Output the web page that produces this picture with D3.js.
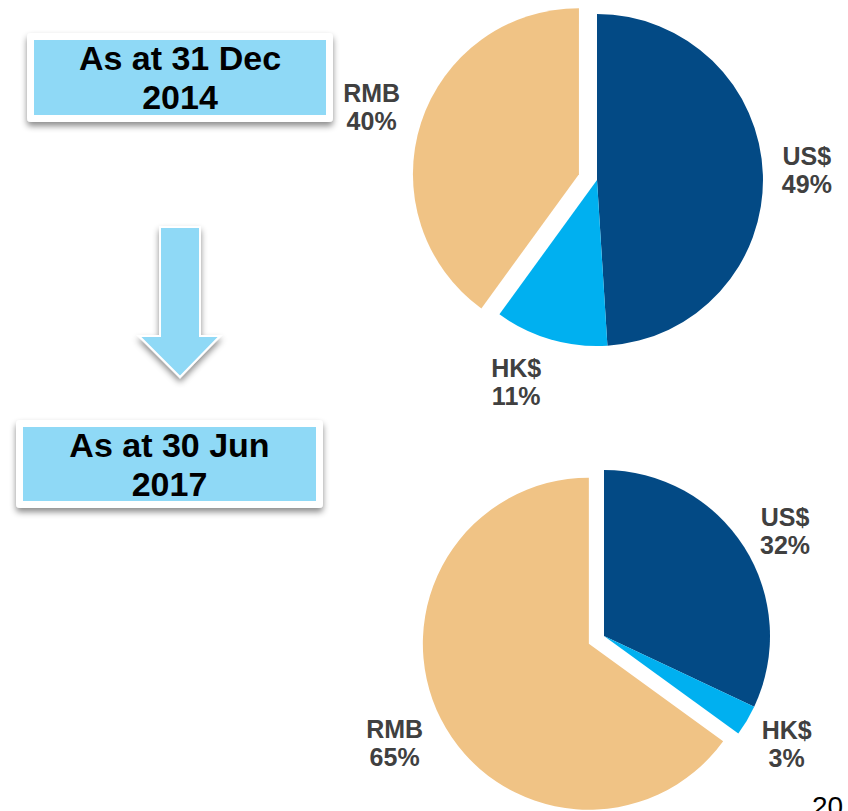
<!DOCTYPE html>
<html>
<head>
<meta charset="utf-8">
<script src="https://cdn.jsdelivr.net/npm/d3@7"></script>
<style>
  html, body { margin: 0; padding: 0; background: #fff; }
  svg { display: block; font-family: "Liberation Sans", Arial, sans-serif; }
</style>
</head>
<body>
<div id="chart"></div>
<script>
'use strict';

// currency mix of borrowings
var currencies = ['US$', 'HK$', 'RMB'];
var shareDec2014 = [49, 11, 40];
var shareJun2017 = [32, 3, 65];
var periodTitles = [['As at 31 Dec', '2014'], ['As at 30 Jun', '2017']];
var explodedCurrency = 'RMB';
var pageNumber = '20';

var colors = { 'US$': '#034a85', 'HK$': '#00b0f0', 'RMB': '#f0c385' };
var W = 848, H = 811;

var svg = d3.select('#chart').append('svg')
	.attr('width', W)
	.attr('height', H);

var defs = svg.append('defs');
defs.append('filter')
	.attr('id', 'shadow')
	.attr('x', '-10%').attr('y', '-20%')
	.attr('width', '120%').attr('height', '150%')
	.append('feDropShadow')
	.attr('dx', 0).attr('dy', 4)
	.attr('stdDeviation', 3)
	.attr('flood-color', '#000')
	.attr('flood-opacity', 0.45);

// title boxes
var boxes = [
	{ x: 27, y: 33, w: 306, h: 89, inset: 7, lines: periodTitles[0] },
	{ x: 16, y: 420, w: 307, h: 88, inset: 7, lines: periodTitles[1] }
];
boxes.forEach(function (b) {
	var g = svg.append('g');
	g.append('rect')
		.attr('x', b.x).attr('y', b.y)
		.attr('width', b.w).attr('height', b.h)
		.attr('rx', 4)
		.attr('fill', '#fff')
		.attr('filter', 'url(#shadow)');
	g.append('rect')
		.attr('x', b.x + b.inset).attr('y', b.y + b.inset)
		.attr('width', b.w - 2 * b.inset).attr('height', b.h - 2 * b.inset)
		.attr('fill', '#8fd9f6');
	g.append('text')
		.attr('x', b.x + b.w / 2)
		.attr('y', b.y + 37)
		.attr('text-anchor', 'middle')
		.attr('font-size', 34)
		.attr('font-weight', 'bold')
		.attr('fill', '#000')
		.selectAll('tspan')
		.data(b.lines)
		.enter().append('tspan')
		.attr('x', b.x + b.w / 2)
		.attr('dy', function (d, i) { return i ? 39 : 0; })
		.text(function (d) { return d; });
});

// down arrow
var arrow = d3.path();
arrow.moveTo(160, 227);
arrow.lineTo(200, 227);
arrow.lineTo(200, 336);
arrow.lineTo(220, 336);
arrow.lineTo(180, 377);
arrow.lineTo(139, 336);
arrow.lineTo(160, 336);
arrow.closePath();
svg.append('path')
	.attr('d', arrow.toString())
	.attr('fill', '#8fd9f6')
	.attr('stroke', '#fff')
	.attr('stroke-width', 2)
	.attr('filter', 'url(#shadow)');

// pies
var radius = 166;
var labelRadius = 218;
var pies = [
	{ key: 'top', cx: 597, cy: 180, explode: 19, values: shareDec2014 },
	{ key: 'bottom', cx: 604, cy: 636, explode: 17, values: shareJun2017 }
];
// small hand nudges for label placement
var labelNudge = {
	'top-HK$': [-20, -7],
	'top-US$': [-8, -3],
	'bottom-US$': [-3, 12],
	'bottom-HK$': [-5, -3]
};

var pie = d3.pie().sort(null).value(function (d) { return d.value; });
var arc = d3.arc().innerRadius(0).outerRadius(radius);

pies.forEach(function (p) {
	var rows = currencies.map(function (c, i) { return { name: c, value: p.values[i] }; });
	var arcs = pie(rows);
	var g = svg.append('g').attr('transform', 'translate(' + p.cx + ',' + p.cy + ')');

	function offset(d) {
		var mid = (d.startAngle + d.endAngle) / 2;
		var dist = d.data.name === explodedCurrency ? p.explode : 0;
		return [Math.sin(mid) * dist, -Math.cos(mid) * dist];
	}

	g.selectAll('path')
		.data(arcs)
		.enter().append('path')
		.attr('d', arc)
		.attr('transform', function (d) {
			var o = offset(d);
			return 'translate(' + o[0] + ',' + o[1] + ')';
		})
		.attr('fill', function (d) { return colors[d.data.name]; });

	g.selectAll('text')
		.data(arcs)
		.enter().append('text')
		.attr('text-anchor', 'middle')
		.attr('font-size', 25)
		.attr('font-weight', 'bold')
		.attr('fill', '#404040')
		.each(function (d) {
			var mid = (d.startAngle + d.endAngle) / 2;
			var o = offset(d);
			var n = labelNudge[p.key + '-' + d.data.name] || [0, 0];
			var x = o[0] + Math.sin(mid) * labelRadius + n[0];
			var y = o[1] - Math.cos(mid) * labelRadius + n[1] - 5;
			d3.select(this).selectAll('tspan')
				.data([d.data.name, d.data.value + '%'])
				.enter().append('tspan')
				.attr('x', x)
				.attr('y', function (t, i) { return y + i * 28; })
				.text(function (t) { return t; });
		});
});

// page number
svg.append('text')
	.attr('x', 812)
	.attr('y', 816)
	.attr('font-size', 28)
	.attr('fill', '#000')
	.text(pageNumber);
</script>
</body>
</html>
